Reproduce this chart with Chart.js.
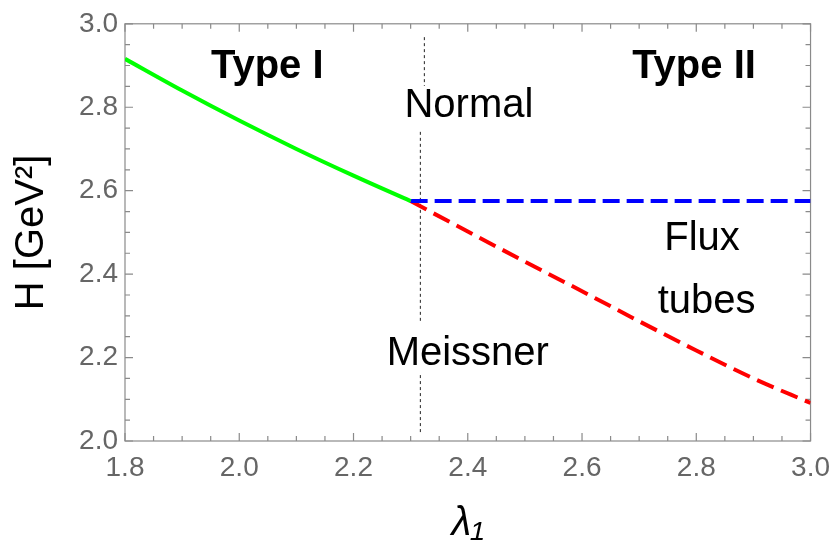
<!DOCTYPE html>
<html>
<head>
<meta charset="utf-8">
<script src="https://cdn.jsdelivr.net/npm/chart.js@4"></script>
<style>
  body { margin: 0; background: #fff; }
</style>
</head>
<body>
<canvas id="phase" width="840" height="554"></canvas>
<script>
"use strict";

// phase boundaries
const typeIX = [1.8, 1.9, 2.0, 2.1, 2.2, 2.3];
const typeIH = [2.916, 2.840, 2.768, 2.700, 2.636, 2.575];
const normalX = [2.3, 3.0];
const normalH = [2.575, 2.575];
const meissnerX = [2.3, 2.4, 2.5, 2.6, 2.7, 2.8, 2.9, 3.0];
const meissnerH = [2.575, 2.502, 2.430, 2.359, 2.287, 2.217, 2.150, 2.091];

// dotted divider, broken where the labels sit
const dividerX = [2.324, 2.317, 2.317];
const dividerTop = [2.968, 2.741, 2.158];
const dividerBottom = [2.851, 2.284, 2.019];

// region labels (x, H)
const typeLabels = ['Type I', 'Type II'];
const typeLabelX = [2.049, 2.796];
const typeLabelH = [2.897, 2.897];
const regionLabels = ['Normal', 'Meissner', 'Flux', 'tubes'];
const regionLabelX = [2.402, 2.400, 2.81, 2.818];
const regionLabelH = [2.804, 2.208, 2.485, 2.334];

const X_MIN = 1.8, X_MAX = 3.0, H_MIN = 2.0, H_MAX = 3.0;
const FONT = "'Liberation Sans', Arial, sans-serif";

const toPoints = (xs, ys) => xs.map((x, i) => ({ x: x, y: ys[i] }));

const dividerPoints = [];
dividerX.forEach((x, i) => {
    if (i > 0) dividerPoints.push({ x: x, y: null });
    dividerPoints.push({ x: x, y: dividerTop[i] });
    dividerPoints.push({ x: x, y: dividerBottom[i] });
});

// Mathematica style frame with inward ticks
const frameTicks = {
    id: 'frameTicks',
    beforeDatasetsDraw(chart) {
        const { ctx, chartArea: a, scales: { x, y } } = chart;
        ctx.save();
        ctx.strokeStyle = '#8a8a8a';
        ctx.lineWidth = 1.2;
        ctx.strokeRect(a.left, a.top, a.right - a.left, a.bottom - a.top);
        ctx.beginPath();
        for (let i = 0; i <= 24; i++) {
            const px = x.getPixelForValue(X_MIN + i * 0.05);
            const len = i % 4 === 0 ? 8 : 5;
            ctx.moveTo(px, a.bottom); ctx.lineTo(px, a.bottom - len);
            ctx.moveTo(px, a.top); ctx.lineTo(px, a.top + len);
        }
        for (let i = 0; i <= 20; i++) {
            const py = y.getPixelForValue(H_MIN + i * 0.05);
            const len = i % 4 === 0 ? 8 : 5;
            ctx.moveTo(a.left, py); ctx.lineTo(a.left + len, py);
            ctx.moveTo(a.right, py); ctx.lineTo(a.right - len, py);
        }
        ctx.stroke();
        ctx.restore();
    },
    afterDatasetsDraw(chart) {
        const { ctx, scales: { x, y } } = chart;
        ctx.save();
        ctx.fillStyle = '#000';
        ctx.textAlign = 'center';
        ctx.textBaseline = 'middle';
        ctx.font = 'bold 40px ' + FONT;
        typeLabels.forEach((t, i) => {
            ctx.fillText(t, x.getPixelForValue(typeLabelX[i]), y.getPixelForValue(typeLabelH[i]));
        });
        ctx.font = '40px ' + FONT;
        regionLabels.forEach((t, i) => {
            ctx.fillText(t, x.getPixelForValue(regionLabelX[i]), y.getPixelForValue(regionLabelH[i]));
        });
        ctx.restore();
    }
};

new Chart(document.getElementById('phase'), {
    type: 'line',
    data: {
        datasets: [{
            label: 'Type I',
            data: toPoints(typeIX, typeIH),
            borderColor: '#00ff00',
            borderWidth: 4,
            pointRadius: 0,
            cubicInterpolationMode: 'monotone'
        }, {
            label: 'Normal / flux tubes',
            data: toPoints(normalX, normalH),
            borderColor: '#0000ff',
            borderWidth: 4,
            borderDash: [17, 7],
            pointRadius: 0
        }, {
            label: 'Meissner / flux tubes',
            data: toPoints(meissnerX, meissnerH),
            borderColor: '#ff0000',
            borderWidth: 4,
            borderDash: [18, 8],
            pointRadius: 0,
            cubicInterpolationMode: 'monotone'
        }, {
            label: 'divider',
            data: dividerPoints,
            borderColor: '#222',
            borderWidth: 1,
            borderDash: [3, 3],
            pointRadius: 0,
            spanGaps: false
        }]
    },
    options: {
        responsive: false,
        animation: false,
        layout: {
            padding: { top: 20, right: 22, left: 0, bottom: 0 }
        },
        scales: {
            x: {
                type: 'linear',
                min: X_MIN,
                max: X_MAX,
                afterFit: (scale) => { scale.height = 113; },
                grid: { display: false, drawTicks: false },
                border: { display: false },
                ticks: {
                    stepSize: 0.2,
                    padding: 10,
                    color: '#666',
                    font: { family: FONT, size: 28 },
                    callback: (v) => v.toFixed(1)
                },
                title: {
                    display: true,
                    text: 'λ₁',
                    color: '#000',
                    font: { family: FONT, size: 40, style: 'italic', lineHeight: 1 },
                    padding: { top: 0, bottom: 10 }
                }
            },
            y: {
                min: H_MIN,
                max: H_MAX,
                afterFit: (scale) => { scale.width = 125; },
                grid: { display: false, drawTicks: false },
                border: { display: false },
                ticks: {
                    stepSize: 0.2,
                    padding: 7,
                    color: '#666',
                    font: { family: FONT, size: 28 },
                    callback: (v) => v.toFixed(1)
                },
                title: {
                    display: true,
                    text: 'H [GeV²]',
                    color: '#000',
                    font: { family: FONT, size: 40, lineHeight: 1 },
                    padding: { top: 12, bottom: 0 }
                }
            }
        },
        plugins: {
            legend: { display: false },
            tooltip: { enabled: false }
        }
    },
    plugins: [frameTicks]
});
</script>
</body>
</html>
